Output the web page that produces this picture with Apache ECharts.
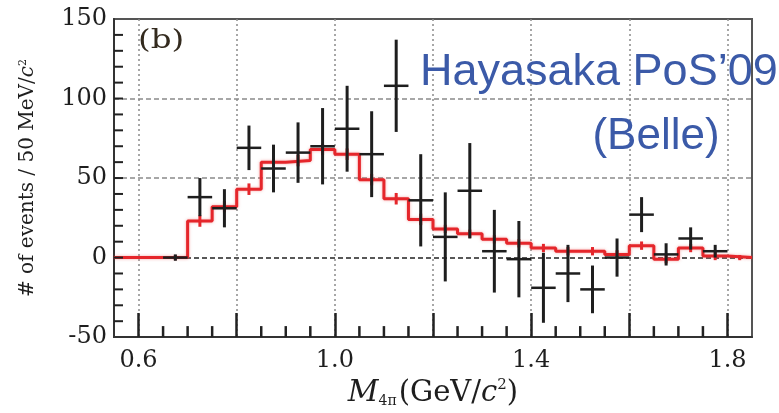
<!DOCTYPE html>
<html lang="en">
<head>
  <meta charset="UTF-8">
  <script src="https://cdn.jsdelivr.net/npm/echarts@6.0.0/dist/echarts.min.js"></script>
  <title>M4pi spectrum</title>
  <style>
    html, body { margin: 0; padding: 0; background: #fff; }
  </style>
</head>
<body>
<div id="chart" style="width: 779px; height: 413px;"></div>
<script type="text/javascript">
  // bins are 50 MeV wide, from 0.55 to 1.85 GeV
  let binWidth   = 0.05;
  let binLow     = [0.55, 0.60, 0.65, 0.70, 0.75, 0.80, 0.85, 0.90, 0.95, 1.00, 1.05, 1.10, 1.15,
                    1.20, 1.25, 1.30, 1.35, 1.40, 1.45, 1.50, 1.55, 1.60, 1.65, 1.70, 1.75, 1.80];
  let mcCounts   = [0, 0, 0, 23, 32, 43, 60, 61, 68, 65, 49, 37, 24,
                    18, 15, 11.5, 9, 6, 4, 4, 2, 7.5, -1, 6, 1, 0];
  let mcErr      = [0, 0, 1, 3, 3, 3, 3, 3, 3, 3, 3, 3, 3,
                    2, 2, 2, 2, 2, 2, 2, 2, 2, 2, 2, 2, 1];

  // measured points (bin centre, events, error)
  let dataMass   = [0.675, 0.725, 0.775, 0.825, 0.875, 0.925, 0.975, 1.025, 1.075, 1.125, 1.175, 1.225,
                    1.275, 1.325, 1.375, 1.425, 1.475, 1.525, 1.575, 1.625, 1.675, 1.725, 1.775];
  let dataCounts = [0, 38, 31, 69, 56, 66, 70, 81, 65, 108, 36, 13,
                    42, 4, -1, -19, -10, -20, 0, 27, 2, 12, 4];
  let dataErr    = [2, 12, 12, 14, 15, 19, 24, 27, 27, 29, 29, 28,
                    30, 26, 24, 22, 18, 15, 12, 11, 7, 7, 4];

  let xLabels    = [0.6, 1.0, 1.4, 1.8];
  let xMajor     = [0.6, 0.8, 1.0, 1.2, 1.4, 1.6, 1.8];
  let xMinor     = [0.65, 0.70, 0.75, 0.85, 0.90, 0.95, 1.05, 1.10, 1.15, 1.25, 1.30, 1.35,
                    1.45, 1.50, 1.55, 1.65, 1.70, 1.75];
  let yMinor     = [-40, -30, -20, -10, 0, 10, 20, 30, 40, 50, 60, 70, 80, 90, 100, 110, 120, 130, 140];

  function main() {
    let chart = echarts.init(document.getElementById('chart'));

    let stepData = binLow.map(function (x, i) { return [x, mcCounts[i]]; });
    stepData.push([binLow[binLow.length - 1] + binWidth, mcCounts[mcCounts.length - 1]]);
    let mcErrData = binLow.map(function (x, i) { return [x + binWidth / 2, mcCounts[i], mcErr[i]]; });
    let points = dataMass.map(function (x, i) { return [x, dataCounts[i], dataErr[i]]; });

    let serif = 'DejaVu Serif';
    let ink = '#1e1e1e';

    // short inward ticks: drawn as a group, base points come from the axes
    function renderTicks(params, api) {
      let children = [];
      xMinor.forEach(function (x) {
        let p = api.coord([x, -50]);
        children.push({ type: 'line', shape: { x1: p[0], y1: p[1], x2: p[0], y2: p[1] - 11 }, style: { stroke: '#222', lineWidth: 2.5 } });
      });
      yMinor.forEach(function (y) {
        let p = api.coord([0.55, y]);
        children.push({ type: 'line', shape: { x1: p[0], y1: p[1], x2: p[0] + 9, y2: p[1] }, style: { stroke: '#222', lineWidth: 2 } });
      });
      return { type: 'group', children: children };
    }

    chart.setOption({
      animation: false,
      grid: {
        left: 114, right: 27, top: 19, bottom: 75,
        show: true, borderColor: '#555', borderWidth: 2
      },
      xAxis: [
        {
          type: 'value', min: 0.55, max: 1.85,
          axisLine: { show: true, onZero: false, lineStyle: { color: '#333', width: 2 } },
          axisTick: { show: false },
          axisLabel: {
            customValues: xLabels, margin: 12,
            color: ink, fontFamily: serif, fontSize: 24,
            formatter: function (v) { return v.toFixed(1); }
          },
          splitLine: { show: false },
          name: '{mi|M}{sub|4π}{n|(GeV/}{ci|c}{sup|2}{n|)}',
          nameLocation: 'middle', nameGap: 38,
          nameTextStyle: {
            color: ink, fontFamily: serif, fontSize: 29,
            rich: {
              mi:  { fontFamily: serif, fontSize: 30, fontStyle: 'italic', color: ink },
              sub: { fontFamily: serif, fontSize: 14, color: ink, verticalAlign: 'bottom', padding: [0, 2, 0, 0] },
              n:   { fontFamily: serif, fontSize: 29, color: ink },
              ci:  { fontFamily: serif, fontSize: 29, fontStyle: 'italic', color: ink },
              sup: { fontFamily: serif, fontSize: 15, color: ink, verticalAlign: 'top' }
            }
          }
        },
        {
          // long ticks and dotted grid every 0.2
          type: 'value', min: 0.55, max: 1.85, position: 'bottom',
          axisLine: { show: false, onZero: false },
          axisTick: { show: true, inside: true, length: 24, customValues: xMajor, lineStyle: { color: '#222', width: 2.5 } },
          axisLabel: { show: false },
          splitLine: { show: true, lineStyle: { color: '#8a8a8a', width: 1.5, type: [2, 3] } }
        }
      ],
      yAxis: {
        type: 'value', min: -50, max: 150, interval: 50,
        axisLine: { show: true, onZero: false, lineStyle: { color: '#333', width: 2 } },
        axisTick: { show: false },
        axisLabel: { color: ink, fontFamily: serif, fontSize: 24, margin: 7 },
        splitLine: {
          show: true,
          lineStyle: { color: ['rgba(0,0,0,0)', '#222', '#8a8a8a', '#8a8a8a', 'rgba(0,0,0,0)'], width: 1.5, type: [5, 3] }
        },
        name: '# of events / 50 MeV/{ci|c}{sup|2}',
        nameLocation: 'middle', nameGap: 76,
        nameTextStyle: {
          color: ink, fontFamily: serif, fontSize: 20,
          rich: {
            ci:  { fontFamily: serif, fontSize: 20, fontStyle: 'italic', color: ink },
            sup: { fontFamily: serif, fontSize: 11, color: ink, verticalAlign: 'top' }
          }
        }
      },
      series: [
        {
          name: 'MC', type: 'line', step: 'end', data: stepData,
          xAxisIndex: 0, yAxisIndex: 0, symbol: 'none', z: 3,
          lineStyle: { color: '#e5262b', width: 3, shadowColor: 'rgba(235,80,80,0.5)', shadowBlur: 3 }
        },
        {
          name: 'MC err', type: 'custom', data: mcErrData, xAxisIndex: 0, yAxisIndex: 0, z: 4,
          renderItem: function (params, api) {
            let top = api.coord([api.value(0), api.value(1) + api.value(2)]);
            let bot = api.coord([api.value(0), api.value(1) - api.value(2)]);
            return {
              type: 'line',
              shape: { x1: top[0], y1: top[1] - 1, x2: bot[0], y2: bot[1] + 1 },
              style: { stroke: '#e5262b', lineWidth: 3 }
            };
          }
        },
        {
          name: 'Data', type: 'custom', data: points, xAxisIndex: 0, yAxisIndex: 0, z: 5,
          renderItem: function (params, api) {
            let x = api.value(0), y = api.value(1), e = api.value(2);
            let top = api.coord([x, y + e]);
            let bot = api.coord([x, y - e]);
            let l = api.coord([x - binWidth / 2, y]);
            let r = api.coord([x + binWidth / 2, y]);
            return {
              type: 'group',
              children: [
                { type: 'line', shape: { x1: top[0], y1: top[1], x2: bot[0], y2: bot[1] }, style: { stroke: ink, lineWidth: 3 } },
                { type: 'line', shape: { x1: l[0], y1: l[1], x2: r[0], y2: r[1] }, style: { stroke: ink, lineWidth: 2.5 } }
              ]
            };
          }
        },
        {
          name: 'ticks', type: 'custom', data: [[1.2, 50]], xAxisIndex: 0, yAxisIndex: 0,
          z: 20, silent: true, renderItem: renderTicks
        }
      ],
      graphic: [
        {
          type: 'text', x: 138, y: 41, scaleX: 1.25, z: 10,
          style: { text: '(b)', fontFamily: serif, fontSize: 26, fill: '#332a1e', verticalAlign: 'middle' }
        },
        {
          type: 'text', x: 420, y: 73, z: 10,
          style: { text: 'Hayasaka PoS\u201909', fontFamily: 'Liberation Sans', fontSize: 45, fill: '#3b5aa8', verticalAlign: 'middle' }
        },
        {
          type: 'text', x: 656, y: 137, z: 10,
          style: { text: '(Belle)', fontFamily: 'Liberation Sans', fontSize: 44, fill: '#3b5aa8', align: 'center', verticalAlign: 'middle' }
        }
      ]
    });
  }

  main();
</script>
</body>
</html>
